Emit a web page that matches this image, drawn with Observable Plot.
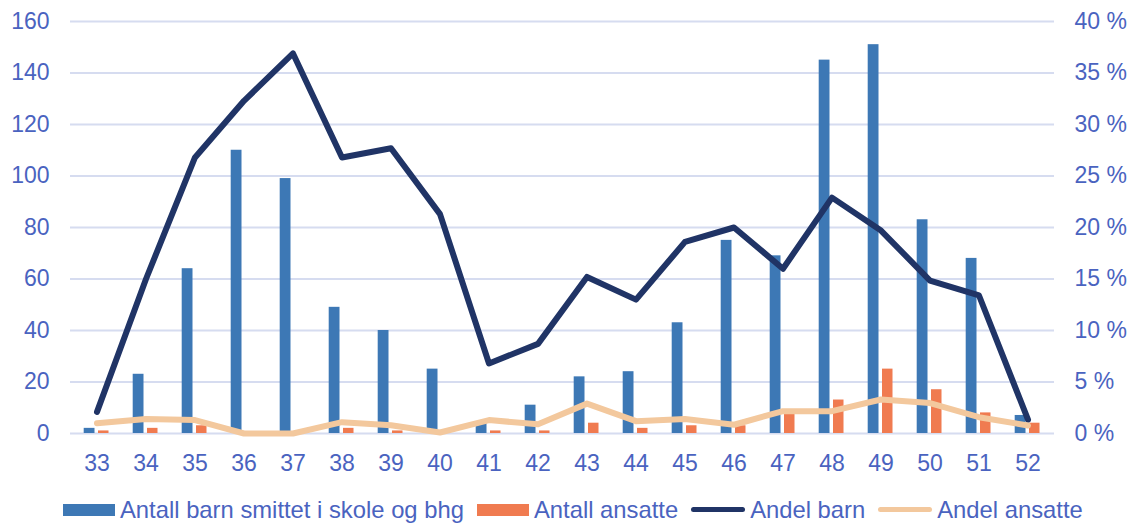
<!DOCTYPE html>
<html>
<head>
<meta charset="utf-8">
<script src="https://cdn.jsdelivr.net/npm/d3@7"></script>
<script src="https://cdn.jsdelivr.net/npm/@observablehq/plot@0.6"></script>
<style>
  html, body { margin: 0; padding: 0; background: #fff; }
  body { width: 1139px; height: 529px; overflow: hidden; font-family: "Liberation Sans", Arial, sans-serif; }
  #legend { display: flex; align-items: center; height: 39px; padding-left: 63px; color: #4A63C0; font-size: 23.8px; }
  #legend .item { display: flex; align-items: center; margin-right: 13px; }
  #legend .sw { display: inline-block; margin-right: 5px; }
  #legend .bar { width: 52px; height: 12px; }
  #legend .line { width: 54px; height: 5px; border-radius: 3px; }
</style>
</head>
<body>
<div id="chart"></div>
<div id="legend"></div>
<script>
const weeks = [33,34,35,36,37,38,39,40,41,42,43,44,45,46,47,48,49,50,51,52];
const antallBarn = [2,23,64,110,99,49,40,25,4,11,22,24,43,75,69,145,151,83,68,7];
const antallAnsatte = [1,2,3,0,0,2,1,0,1,1,4,2,3,3,8,13,25,17,8,4];
const andelBarn = [2.1,15.0,26.8,32.3,36.9,26.8,27.7,21.3,6.8,8.7,15.2,13.0,18.6,20.0,16.0,22.9,19.7,14.85,13.4,1.35];
const andelAnsatte = [1.0,1.4,1.3,0,0,1.1,0.8,0.1,1.3,0.9,2.9,1.2,1.4,0.85,2.17,2.17,3.3,2.95,1.58,0.78];
const leftTicks = [0,20,40,60,80,100,120,140,160];
const rightTicks = [0,5,10,15,20,25,30,35,40];
const seriesNames = ["Antall barn smittet i skole og bhg","Antall ansatte","Andel barn","Andel ansatte"];
const colors = ["#3D78B5","#F07B50","#203466","#F3C89D"];

const data = weeks.map((w, i) => ({
  week: w, barn: antallBarn[i], ansatte: antallAnsatte[i],
  andelBarn: andelBarn[i], andelAnsatte: andelAnsatte[i]
}));
const ratio = 160 / 40;
const textColor = "#4A63C0";

const chart = Plot.plot({
  width: 1139,
  height: 490,
  marginTop: 21,
  marginBottom: 57,
  marginLeft: 70,
  marginRight: 85,
  style: { fontFamily: "'Liberation Sans', Arial, sans-serif", fontSize: "23px", color: textColor, background: "#fff" },
  x: { type: "band", domain: weeks, padding: 0 },
  y: { domain: [0, 160] },
  marks: [
    Plot.ruleY(leftTicks, { stroke: "#D6DCF0", strokeWidth: 1.8 }),
    Plot.barY(data, { x: "week", y: "barn", fill: colors[0], insetLeft: 11.7, insetRight: 26.5 }),
    Plot.barY(data, { x: "week", y: "ansatte", fill: colors[1], insetLeft: 26, insetRight: 12.5 }),
    Plot.line(data, { x: "week", y: d => d.andelBarn * ratio, stroke: colors[2], strokeWidth: 6, strokeLinecap: "round", strokeLinejoin: "round" }),
    Plot.line(data, { x: "week", y: d => d.andelAnsatte * ratio, stroke: colors[3], strokeWidth: 6, strokeLinecap: "round", strokeLinejoin: "round" }),
    Plot.axisY(leftTicks, { anchor: "left", tickSize: 0, tickPadding: 21, label: null, fill: textColor, fontSize: 23 }),
    Plot.axisY(leftTicks, { anchor: "right", tickSize: 0, tickPadding: 20, label: null, fill: textColor, fontSize: 23,
      tickFormat: d => rightTicks[leftTicks.indexOf(d)] + " %" }),
    Plot.axisX(weeks, { anchor: "bottom", tickSize: 0, tickPadding: 21, label: null, fill: textColor, fontSize: 23 })
  ]
});
document.getElementById("chart").appendChild(chart);

const legend = document.getElementById("legend");
seriesNames.forEach((name, i) => {
  const item = document.createElement("div");
  item.className = "item";
  const sw = document.createElement("span");
  sw.className = "sw " + (i < 2 ? "bar" : "line");
  sw.style.background = colors[i];
  const t = document.createElement("span");
  t.textContent = name;
  item.appendChild(sw); item.appendChild(t);
  legend.appendChild(item);
});
</script>
</body>
</html>
